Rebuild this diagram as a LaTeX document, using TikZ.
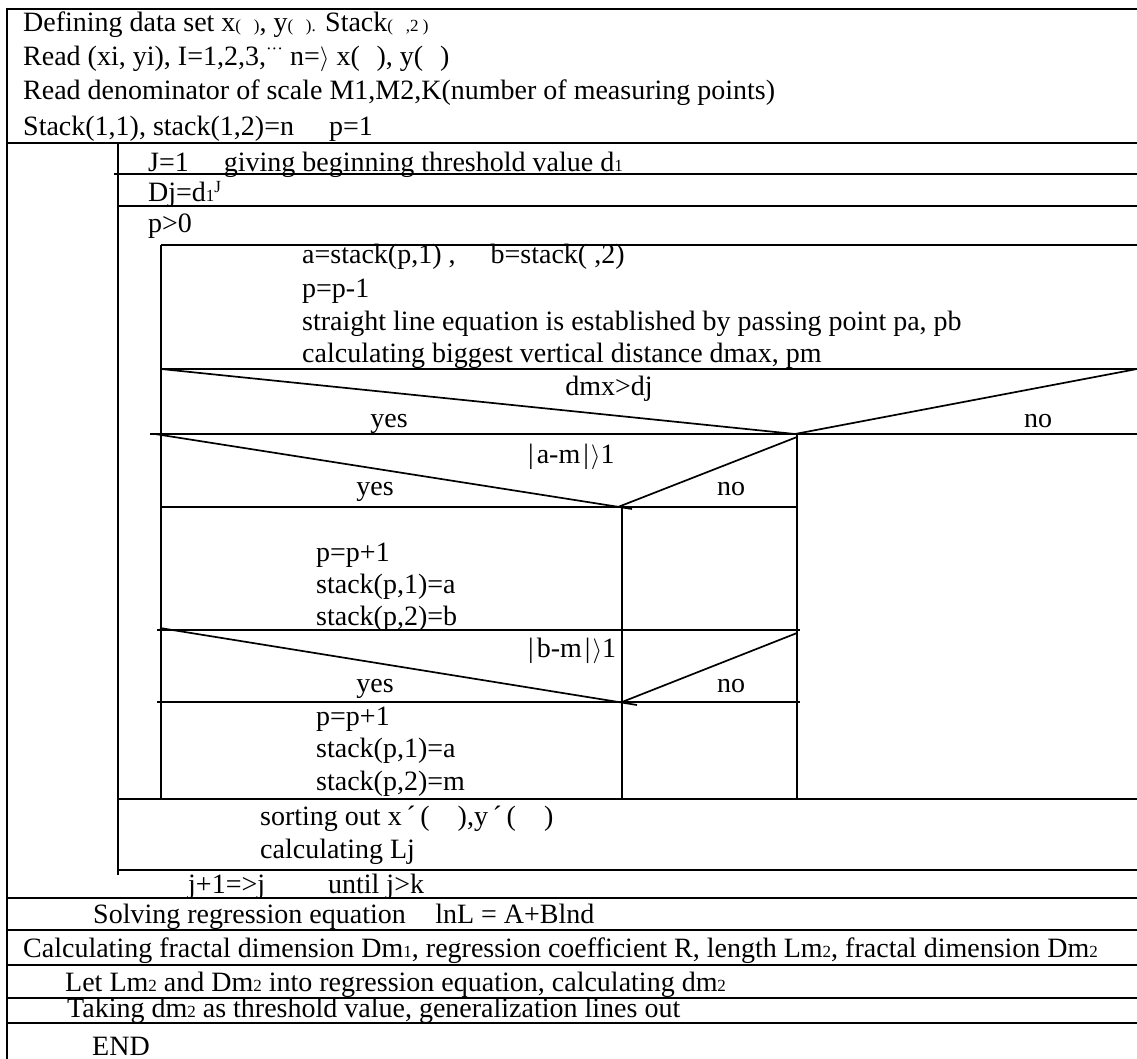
\documentclass[tikz,border=0pt]{standalone}
\usepackage{fontspec}
\setmainfont{Liberation Serif}
\newcommand\sm[1]{{\fontsize{17}{17}\selectfont #1}}
\newcommand\ra{$\rangle$}
\begin{document}
\begin{tikzpicture}[x=1pt,y=-1pt,
  txt/.style={anchor=base west,inner sep=0pt,font=\fontsize{28}{30}\selectfont},
  ctxt/.style={anchor=base,inner sep=0pt,font=\fontsize{28}{30}\selectfont},
  heavy/.style={line width=2.6pt},
  rule/.style={line width=1.7pt},
]
\useasboundingbox (0,0) rectangle (1137,1059);
% ---------- frame and rules ----------
\draw[heavy] (7,9) -- (1137,9);
\draw[heavy] (7,7.7) -- (7,1059);
\draw[heavy] (7,143) -- (1137,143);
\draw[rule] (118,143) -- (118,875);
\draw[rule] (114,174) -- (1137,174);
\draw[rule] (118,206) -- (1137,206);
\draw[rule] (161,245) -- (1137,245);
\draw[rule] (161,245) -- (161,799);
\draw[rule] (161,369) -- (1137,369);
\draw[rule] (161,369) -- (795,434) -- (1137,369);
\draw[rule] (150,434) -- (1137,434);
\draw[rule] (155,434) -- (632,509);
\draw[rule] (618,507) -- (797,437);
\draw[rule] (797,434) -- (797,799);
\draw[rule] (161,507) -- (797,507);
\draw[rule] (622,507) -- (622,799);
\draw[rule] (157,630) -- (800,630);
\draw[rule] (160,628) -- (637,705);
\draw[rule] (622,702) -- (797,633);
\draw[rule] (157,702) -- (800,702);
\draw[rule] (118,799) -- (1137,799);
\draw[rule] (118,870) -- (1137,870);
\draw[heavy] (7,898) -- (1137,898);
\draw[rule] (7,930) -- (1137,930);
\draw[rule] (7,965) -- (1137,965);
\draw[rule] (7,998) -- (1137,998);
\draw[rule] (7,1023) -- (1137,1023);
% ---------- texts ----------
\node[txt] (t1) at (23,32) {Defining data set x\sm{(\ \ \ )}, y\sm{(\ \ \ ).} Stack\sm{(\ \ \ ,2 )}};
\node[txt] (t2) at (23,66) {Read (xi, yi), I=1,2,3,\raisebox{11pt}{\sm{···}} n=\ra\ x(\hspace{0.6em}), y(\hspace{0.6em})};
\node[txt] (t3) at (23,100) {Read denominator of scale M1,M2,K(number of measuring points)};
\node[txt] (t4) at (23,136) {Stack(1,1), stack(1,2)=n\hspace{1em} p=1};
\node[txt] (t5) at (148,172) {J=1\hspace{1em} giving beginning threshold value d\sm{1}};
\node[txt] (t6) at (148,202) {Dj=d\sm{1}\raisebox{9pt}{\sm{J}}};
\node[txt] (t7) at (148,233) {p>0};
\node[txt] (t8) at (302,264) {a=stack(p,1) ,\hspace{1em} b=stack( ,2)};
\node[txt] (t9) at (302,297) {p=p-1};
\node[txt] (t10) at (302,330) {straight line equation is established by passing point pa, pb};
\node[txt] (t11) at (302,362) {calculating biggest vertical distance dmax, pm};
\node[ctxt] (t12) at (609,395) {dmx>dj};
\node[ctxt] (t13) at (389,427) {yes};
\node[ctxt] (t14) at (1038,427) {no};
\node[txt] (t15) at (528,463) {|\hspace{3pt}a-m\hspace{3pt}|\hspace{2pt}\ra1};
\node[ctxt] (t16) at (375,495) {yes};
\node[ctxt] (t17) at (731,495) {no};
\node[txt] (t18) at (316,561) {p=p+1};
\node[txt] (t19) at (316,593) {stack(p,1)=a};
\node[txt] (t20) at (316,625) {stack(p,2)=b};
\node[txt] (t21) at (528,657) {|\hspace{3pt}b-m\hspace{3pt}|\hspace{2pt}\ra1};
\node[ctxt] (t22) at (375,692) {yes};
\node[ctxt] (t23) at (731,692) {no};
\node[txt] (t24) at (316,725) {p=p+1};
\node[txt] (t25) at (316,757) {stack(p,1)=a};
\node[txt] (t26) at (316,790) {stack(p,2)=m};
\node[txt] (t27) at (260,825) {sorting out x\,´\,(\hspace{1em}),y\,´\,(\hspace{1em})};
\node[txt] (t28) at (260,858) {calculating Lj};
\node[txt] (t29) at (188,893) {j+1=>j\hspace{2em} until j>k};
\node[txt] (t30) at (93,923) {Solving regression equation\hspace{0.8em} lnL = A+Blnd};
\node[txt] (t31) at (23,957) {Calculating fractal dimension Dm\sm{1}, regression coefficient R, length Lm\sm{2}, fractal dimension Dm\sm{2}};
\node[txt] (t32) at (65,991) {Let Lm\sm{2} and Dm\sm{2} into regression equation, calculating dm\sm{2}};
\node[txt] (t33) at (67,1017) {Taking dm\sm{2} as threshold value, generalization lines out};
\node[txt] (t34) at (92,1055) {END};
\end{tikzpicture}
\end{document}
